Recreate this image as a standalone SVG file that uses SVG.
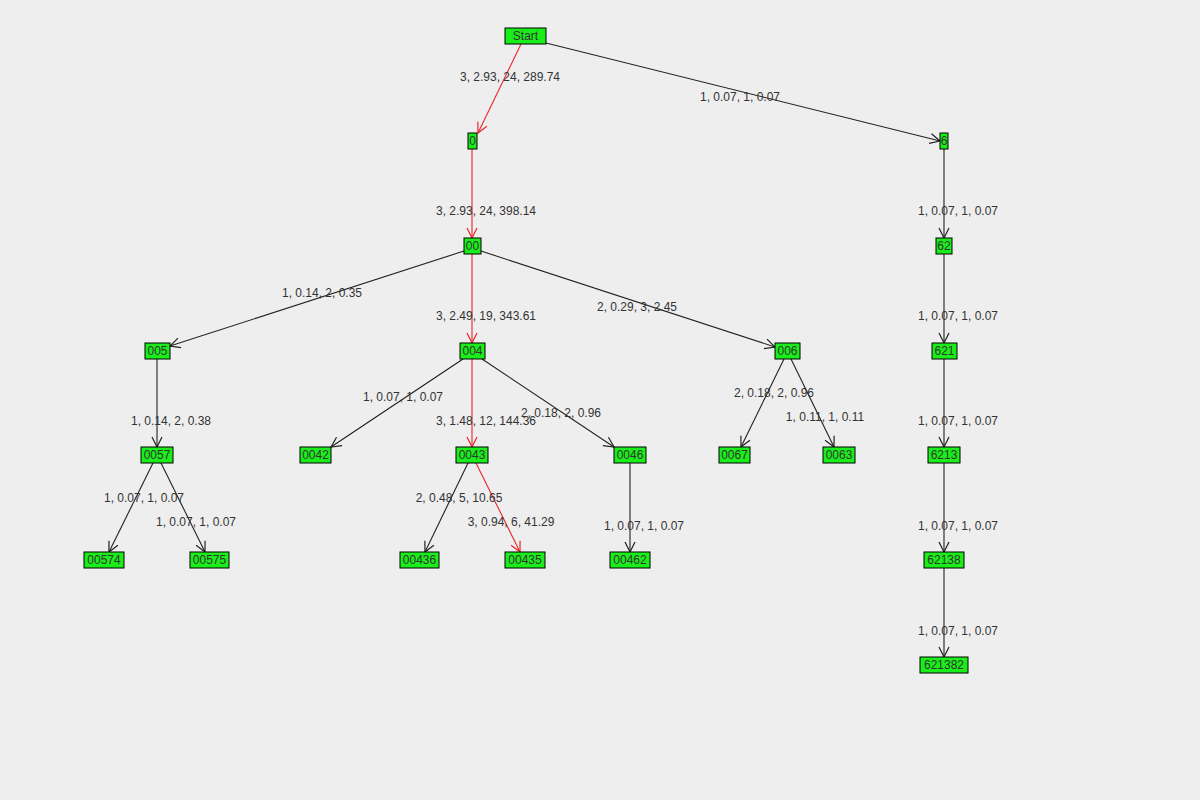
<svg xmlns="http://www.w3.org/2000/svg" width="1200" height="800" viewBox="0 0 1200 800">
<defs>
<marker id="ab" markerWidth="12" markerHeight="12" refX="11" refY="6" orient="auto" markerUnits="userSpaceOnUse"><path d="M1,1 L11,6 L1,11" fill="none" stroke="#222" stroke-width="1.2"/></marker>
<marker id="ar" markerWidth="12" markerHeight="12" refX="11" refY="6" orient="auto" markerUnits="userSpaceOnUse"><path d="M1,1 L11,6 L1,11" fill="none" stroke="#e8262b" stroke-width="1.2"/></marker>
</defs>
<style>
.n rect{fill:#1aee1a;stroke:#000;stroke-width:1}
.n text{font-family:"Liberation Sans",Arial,sans-serif;font-size:12px;fill:#333;text-anchor:middle;dominant-baseline:central}
.e line{stroke:#222;stroke-width:1.1;marker-end:url(#ab)}
.e line.r{stroke:#e8262b;marker-end:url(#ar)}
.l text{font-family:"Liberation Sans",Arial,sans-serif;font-size:12px;fill:#333;text-anchor:middle;dominant-baseline:central}
</style>
<rect width="1200" height="800" fill="#eeeeee"/>
<g id="connectors" class="e">
<line class="r" x1="521" y1="44" x2="478" y2="133"/>
<line x1="546" y1="43" x2="940" y2="141"/>
<line class="r" x1="472" y1="149" x2="472" y2="238"/>
<line x1="944" y1="149" x2="944" y2="238"/>
<line x1="464" y1="251" x2="170" y2="346"/>
<line class="r" x1="472" y1="254" x2="472" y2="343"/>
<line x1="481" y1="251" x2="775" y2="347"/>
<line x1="944" y1="254" x2="944" y2="343"/>
<line x1="157" y1="359" x2="157" y2="447"/>
<line x1="463" y1="359" x2="331" y2="447"/>
<line class="r" x1="472" y1="359" x2="472" y2="447"/>
<line x1="482" y1="359" x2="614" y2="447"/>
<line x1="784" y1="359" x2="741" y2="447"/>
<line x1="791" y1="359" x2="834" y2="447"/>
<line x1="944" y1="359" x2="944" y2="447"/>
<line x1="153" y1="463" x2="109" y2="552"/>
<line x1="161" y1="463" x2="205" y2="552"/>
<line x1="468" y1="463" x2="425" y2="552"/>
<line class="r" x1="476" y1="463" x2="520" y2="552"/>
<line x1="630" y1="463" x2="630" y2="552"/>
<line x1="944" y1="463" x2="944" y2="552"/>
<line x1="944" y1="568" x2="944" y2="657"/>
</g>
<g id="labels" class="l">
<text x="510" y="77">3, 2.93, 24, 289.74</text>
<text x="740" y="97">1, 0.07, 1, 0.07</text>
<text x="486" y="211">3, 2.93, 24, 398.14</text>
<text x="958" y="211">1, 0.07, 1, 0.07</text>
<text x="322" y="293">1, 0.14, 2, 0.35</text>
<text x="486" y="316">3, 2.49, 19, 343.61</text>
<text x="637" y="307">2, 0.29, 3, 2.45</text>
<text x="958" y="316">1, 0.07, 1, 0.07</text>
<text x="171" y="421">1, 0.14, 2, 0.38</text>
<text x="403" y="397">1, 0.07, 1, 0.07</text>
<text x="486" y="421">3, 1.48, 12, 144.36</text>
<text x="561" y="413">2, 0.18, 2, 0.96</text>
<text x="774" y="393">2, 0.18, 2, 0.96</text>
<text x="825" y="417">1, 0.11, 1, 0.11</text>
<text x="958" y="421">1, 0.07, 1, 0.07</text>
<text x="144" y="498">1, 0.07, 1, 0.07</text>
<text x="196" y="522">1, 0.07, 1, 0.07</text>
<text x="459" y="498">2, 0.48, 5, 10.65</text>
<text x="511" y="522">3, 0.94, 6, 41.29</text>
<text x="644" y="526">1, 0.07, 1, 0.07</text>
<text x="958" y="526">1, 0.07, 1, 0.07</text>
<text x="958" y="631">1, 0.07, 1, 0.07</text>
</g>
<g id="n-start" class="n"><rect x="505" y="28" width="41" height="16"/><text x="525.5" y="36">Start</text></g>
<g id="n-0" class="n"><rect x="468" y="133" width="9" height="16"/><text x="472.5" y="141">0</text></g>
<g id="n-6" class="n"><rect x="940" y="133" width="8" height="16"/><text x="944" y="141">6</text></g>
<g id="n-00" class="n"><rect x="464" y="238" width="17" height="16"/><text x="472.5" y="246">00</text></g>
<g id="n-62" class="n"><rect x="936" y="238" width="16" height="16"/><text x="944" y="246">62</text></g>
<g id="n-005" class="n"><rect x="145" y="343" width="25" height="16"/><text x="157.5" y="351">005</text></g>
<g id="n-004" class="n"><rect x="460" y="343" width="25" height="16"/><text x="472.5" y="351">004</text></g>
<g id="n-006" class="n"><rect x="775" y="343" width="25" height="16"/><text x="787.5" y="351">006</text></g>
<g id="n-621" class="n"><rect x="932" y="343" width="25" height="16"/><text x="944.5" y="351">621</text></g>
<g id="n-0057" class="n"><rect x="141" y="447" width="32" height="16"/><text x="157" y="455">0057</text></g>
<g id="n-0042" class="n"><rect x="300" y="447" width="31" height="16"/><text x="315.5" y="455">0042</text></g>
<g id="n-0043" class="n"><rect x="456" y="447" width="32" height="16"/><text x="472" y="455">0043</text></g>
<g id="n-0046" class="n"><rect x="614" y="447" width="32" height="16"/><text x="630" y="455">0046</text></g>
<g id="n-0067" class="n"><rect x="719" y="447" width="31" height="16"/><text x="734.5" y="455">0067</text></g>
<g id="n-0063" class="n"><rect x="823" y="447" width="32" height="16"/><text x="839" y="455">0063</text></g>
<g id="n-6213" class="n"><rect x="928" y="447" width="32" height="16"/><text x="944" y="455">6213</text></g>
<g id="n-00574" class="n"><rect x="84" y="552" width="40" height="16"/><text x="104" y="560">00574</text></g>
<g id="n-00575" class="n"><rect x="190" y="552" width="39" height="16"/><text x="209.5" y="560">00575</text></g>
<g id="n-00436" class="n"><rect x="400" y="552" width="39" height="16"/><text x="419.5" y="560">00436</text></g>
<g id="n-00435" class="n"><rect x="505" y="552" width="40" height="16"/><text x="525" y="560">00435</text></g>
<g id="n-00462" class="n"><rect x="610" y="552" width="40" height="16"/><text x="630" y="560">00462</text></g>
<g id="n-62138" class="n"><rect x="924" y="552" width="40" height="16"/><text x="944" y="560">62138</text></g>
<g id="n-621382" class="n"><rect x="920" y="657" width="48" height="16"/><text x="944" y="665">621382</text></g>
</svg>
